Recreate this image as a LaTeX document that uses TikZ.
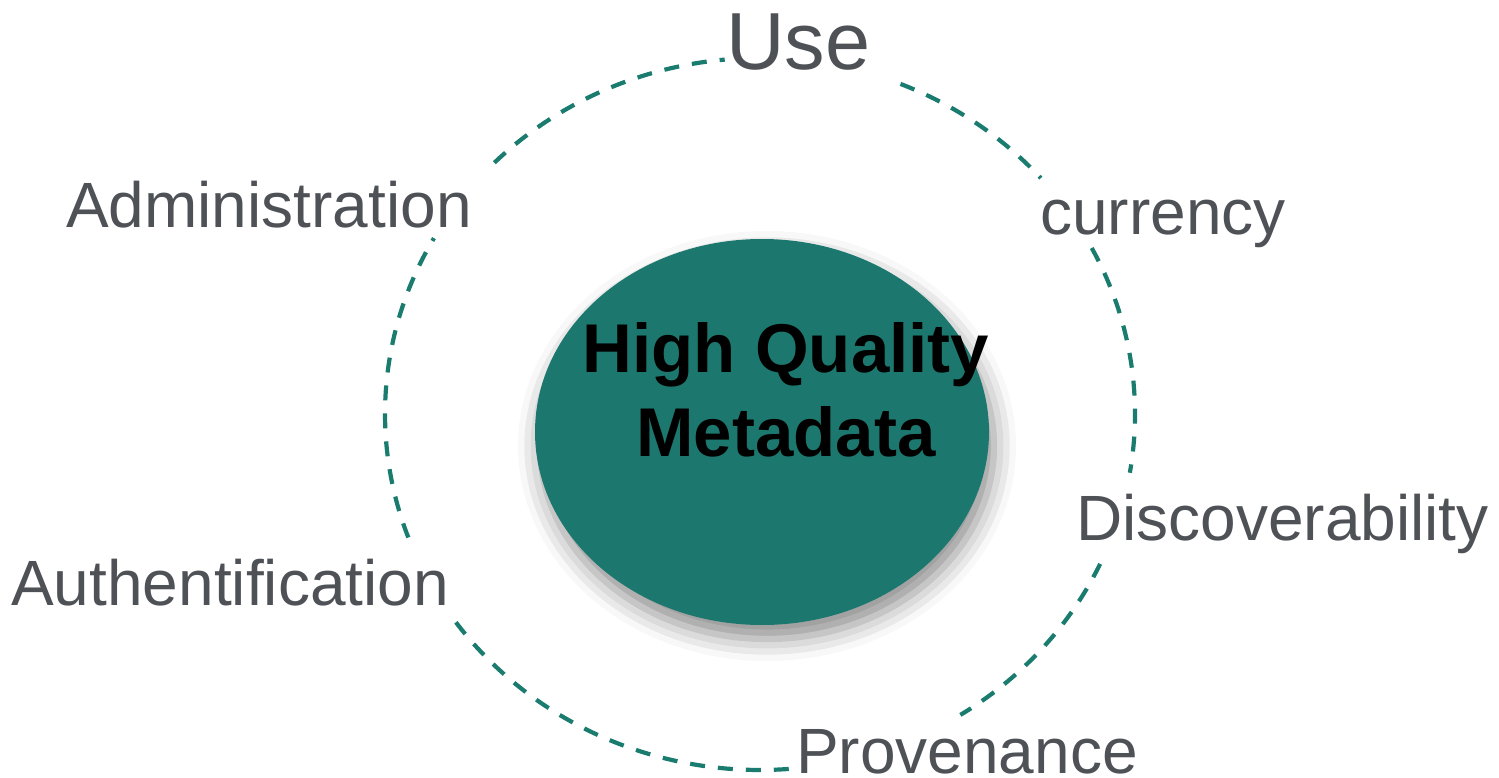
\documentclass[tikz,border=0pt]{standalone}
\usepackage{fontspec}
\setmainfont{Liberation Sans}
\usetikzlibrary{shadows.blur}
\definecolor{tealfill}{HTML}{1C786E}
\definecolor{tealline}{HTML}{1A7B6F}
\definecolor{labelgray}{HTML}{4E5156}
\tikzset{
  ring/.style={draw=tealline, line width=4.2bp, dash pattern=on 15bp off 13bp},
  lbl/.style={anchor=base west, inner sep=0pt, text=labelgray, font=\fontsize{64bp}{77bp}\selectfont},
  biglbl/.style={anchor=base west, inner sep=0pt, text=labelgray, font=\fontsize{81bp}{97bp}\selectfont},
  coretext/.style={align=center, inner sep=0pt, text=black, font=\fontsize{69bp}{84bp}\selectfont\bfseries},
}
\begin{document}
\begin{tikzpicture}[x=1bp, y=-1bp]
\useasboundingbox (0,0) rectangle (1499,777);
% dashed ring, broken where the labels sit
\coordinate (c) at (760,414);
\draw[ring] (c) ++(292:375 and 356)   arc [start angle=292,   end angle=318.5, x radius=375, y radius=356];
\draw[ring] (c) ++(332.2:375 and 356) arc [start angle=332.2, end angle=369.5, x radius=375, y radius=356];
\draw[ring] (c) ++(24.9:375 and 356)  arc [start angle=24.9,  end angle=57.7,  x radius=375, y radius=356];
\draw[ring] (c) ++(85.6:375 and 356)  arc [start angle=85.6,  end angle=146.2, x radius=375, y radius=356];
\draw[ring] (c) ++(159.7:375 and 356) arc [start angle=159.7, end angle=209.6, x radius=375, y radius=356];
\draw[ring] (c) ++(224.9:375 and 356) arc [start angle=224.9, end angle=264.6, x radius=375, y radius=356];
% central ellipse with soft shadow
\fill[tealfill, blur shadow={shadow xshift=5bp, shadow yshift=-14bp, shadow blur radius=22bp, shadow opacity=45}]
  (762,432) ellipse [x radius=227, y radius=193];
\node[coretext] (core) at (786,390) {High Quality\\Metadata};
% labels
\node[biglbl] (use) at (726,70) {Use};
\node[lbl] (admin) at (66,227) {Administration};
\node[lbl] (curr) at (1040,234) {currency};
\node[lbl] (disc) at (1076,540) {Discoverability};
\node[lbl] (auth) at (11,605) {Authentification};
\node[lbl] (prov) at (796,773) {Provenance};
\end{tikzpicture}
\end{document}
